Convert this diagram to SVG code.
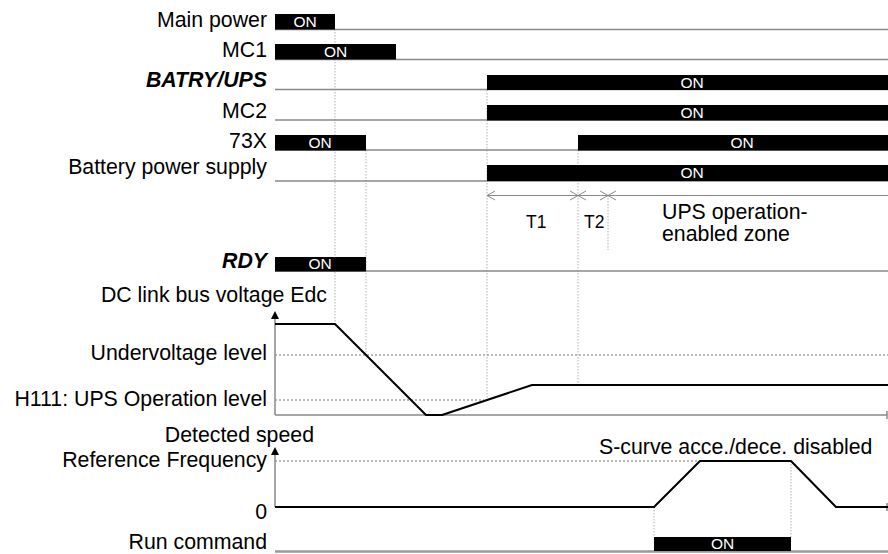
<svg xmlns="http://www.w3.org/2000/svg" width="888" height="554" viewBox="0 0 888 554">
<defs>
<style>
.lbl{font-family:"Liberation Sans",Arial,sans-serif;font-size:21.3px;fill:#000;text-anchor:end}
.bi{font-weight:bold;font-style:italic}
.on{font-family:"Liberation Sans",Arial,sans-serif;font-size:15.5px;fill:#fff;text-anchor:middle}
.txt{font-family:"Liberation Sans",Arial,sans-serif;font-size:21.3px;fill:#000}
.tt{font-family:"Liberation Sans",Arial,sans-serif;font-size:17.5px;fill:#000}
.base{stroke:#888;stroke-width:1.3;fill:none}
.bar{fill:#000}
.vdot{stroke:#b0b0b0;stroke-width:1;stroke-dasharray:1.5 1.5;fill:none}
.hdot{stroke:#777;stroke-width:1;stroke-dasharray:2 2;fill:none}
.wave{stroke:#000;stroke-width:2;fill:none;stroke-linejoin:round}
.axis{stroke:#888;stroke-width:1.5;fill:none}
.chev{stroke:#888;stroke-width:1;fill:none}
</style>
</defs>
<rect width="888" height="554" fill="#fff"/>

<g id="connectors">
<line class="vdot" x1="335" y1="29" x2="335" y2="324"/>
<line class="vdot" x1="366" y1="150" x2="366" y2="355"/>
<line class="vdot" x1="487" y1="90" x2="487" y2="400"/>
<line class="vdot" x1="578" y1="150" x2="578" y2="385"/>
<line class="vdot" x1="608" y1="195" x2="608" y2="250"/>
<line class="vdot" x1="654" y1="507" x2="654" y2="537"/>
<line class="vdot" x1="791" y1="461" x2="791" y2="537"/>
</g>

<g id="main-power">
<text class="lbl" x="267" y="27">Main power</text>
<line class="base" x1="275" y1="29.5" x2="888" y2="29.5"/>
<rect class="bar" x="275" y="14" width="60" height="15.5"/>
<text class="on" x="305" y="27">ON</text>
</g>

<g id="mc1">
<text class="lbl" x="267" y="57">MC1</text>
<line class="base" x1="275" y1="59.5" x2="888" y2="59.5"/>
<rect class="bar" x="275" y="44" width="121" height="15.5"/>
<text class="on" x="335.5" y="57">ON</text>
</g>

<g id="batry-ups">
<text class="lbl bi" x="267" y="87">BATRY/UPS</text>
<line class="base" x1="275" y1="89.5" x2="888" y2="89.5"/>
<rect class="bar" x="487" y="75" width="401" height="15"/>
<text class="on" x="692" y="87.5">ON</text>
</g>

<g id="mc2">
<text class="lbl" x="267" y="118">MC2</text>
<line class="base" x1="275" y1="120" x2="888" y2="120"/>
<rect class="bar" x="487" y="105" width="401" height="15.5"/>
<text class="on" x="692" y="117.5">ON</text>
</g>

<g id="x73">
<text class="lbl" x="267" y="148">73X</text>
<line class="base" x1="275" y1="150" x2="888" y2="150"/>
<rect class="bar" x="275" y="135" width="91" height="15.5"/>
<text class="on" x="320" y="148">ON</text>
<rect class="bar" x="578" y="135" width="310" height="15.5"/>
<text class="on" x="742" y="148">ON</text>
</g>

<g id="battery-power-supply">
<text class="lbl" x="267" y="174">Battery power supply</text>
<line class="base" x1="275" y1="181" x2="888" y2="181"/>
<rect class="bar" x="487" y="165" width="401" height="16"/>
<text class="on" x="692" y="178">ON</text>
</g>

<g id="zones">
<line class="chev" x1="487" y1="195.5" x2="888" y2="195.5"/>
<polyline class="chev" points="495,191 487,195.5 495,200"/>
<polyline class="chev" points="570,191 578,195.5 570,200"/>
<polyline class="chev" points="586,191 578,195.5 586,200"/>
<polyline class="chev" points="600,191 608,195.5 600,200"/>
<polyline class="chev" points="616,191 608,195.5 616,200"/>
<text class="tt" x="526" y="228">T1</text>
<text class="tt" x="584" y="228">T2</text>
<text class="txt" x="662" y="219">UPS operation-</text>
<text class="txt" x="662" y="241">enabled zone</text>
</g>

<g id="rdy">
<text class="lbl bi" x="267" y="268">RDY</text>
<line class="base" x1="275" y1="271" x2="888" y2="271"/>
<rect class="bar" x="275" y="257" width="91" height="14.5"/>
<text class="on" x="320" y="268.5">ON</text>
</g>

<g id="dc-link">
<text class="lbl" x="327" y="302">DC link bus voltage Edc</text>
<text class="lbl" x="267" y="360">Undervoltage level</text>
<text class="lbl" x="267" y="406">H111: UPS Operation level</text>
<line class="hdot" x1="275" y1="355" x2="888" y2="355"/>
<line class="hdot" x1="275" y1="400" x2="484" y2="400"/>
<line class="axis" x1="275" y1="318" x2="275" y2="415"/>
<polygon points="275,311 271,319 279,319" fill="#000"/>
<line class="axis" x1="275" y1="415" x2="887" y2="415"/>
<line class="axis" x1="887" y1="411" x2="887" y2="419"/>
<polyline class="wave" points="275,324 335,324 426,415 442,415 532,385 888,385"/>
</g>

<g id="speed">
<text class="lbl" x="314" y="442">Detected speed</text>
<text class="lbl" x="267" y="467">Reference Frequency</text>
<text class="lbl" x="267" y="519">0</text>
<text class="txt" x="599" y="454">S-curve acce./dece. disabled</text>
<line class="hdot" x1="275" y1="461" x2="700" y2="461"/>
<line class="axis" x1="275" y1="454" x2="275" y2="507"/>
<polygon points="275,447 271,455 279,455" fill="#000"/>
<line class="axis" x1="887" y1="503" x2="887" y2="511"/>
<polyline class="wave" points="275,507 654,507 700,461 791,461 836,507 888,507"/>
</g>

<g id="run-command">
<text class="lbl" x="267" y="549">Run command</text>
<line x1="275" y1="551.5" x2="888" y2="551.5" stroke="#999" stroke-width="2.5"/>
<rect class="bar" x="654" y="537" width="137" height="14"/>
<text class="on" x="722.5" y="549">ON</text>
</g>
</svg>
